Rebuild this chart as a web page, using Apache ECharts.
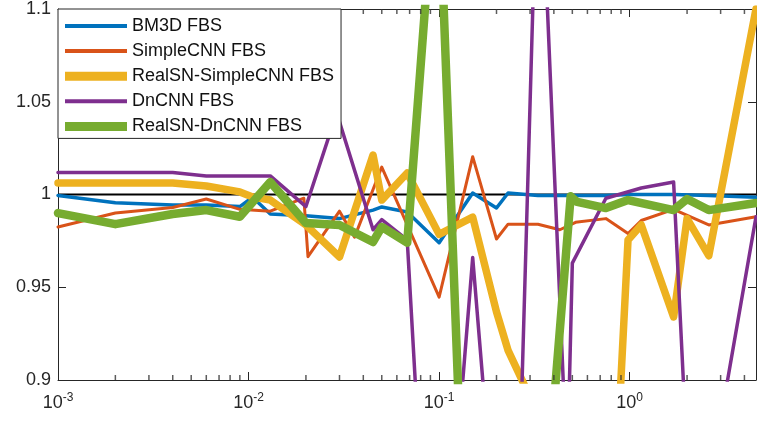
<!DOCTYPE html>
<html>
<head>
<meta charset="utf-8">
<script src="https://cdn.jsdelivr.net/npm/echarts@6/dist/echarts.min.js"></script>
<style>
html,body{margin:0;padding:0;background:#fff;}
#chart{width:757px;height:421px;}
</style>
</head>
<body>
<div id="chart"></div>
<script>
// ---- data ----
const seriesNames = ['BM3D FBS', 'SimpleCNN FBS', 'RealSN-SimpleCNN FBS', 'DnCNN FBS', 'RealSN-DnCNN FBS'];

const bm3dX = [0.001, 0.002, 0.004, 0.006, 0.009, 0.0105, 0.013, 0.02, 0.03, 0.045, 0.05, 0.068, 0.1, 0.15, 0.2, 0.23, 0.33, 0.5, 0.75, 1.0, 1.7, 2.6, 4.6];
const bm3dY = [0.9995, 0.9955, 0.9943, 0.9943, 0.9935, 0.9985, 0.9895, 0.9885, 0.987, 0.9916, 0.9933, 0.9906, 0.974, 1.0008, 0.9927, 1.0008, 0.9995, 0.9995, 0.9995, 1.0, 1.0, 0.9995, 0.9985];

const simpleX = [0.001, 0.002, 0.004, 0.006, 0.009, 0.013, 0.0195, 0.0205, 0.03, 0.036, 0.05, 0.1, 0.15, 0.2, 0.23, 0.33, 0.43, 0.52, 0.75, 0.98, 1.15, 1.7, 2.6, 4.6];
const simpleY = [0.9825, 0.990, 0.993, 0.9976, 0.992, 0.991, 0.998, 0.9665, 0.991, 0.977, 1.0148, 0.9447, 1.0204, 0.976, 0.984, 0.984, 0.981, 0.985, 0.987, 0.979, 0.986, 0.992, 0.9836, 0.988];

const rsSimpleX = [0.001, 0.004, 0.006, 0.009, 0.0105, 0.013, 0.02, 0.03, 0.045, 0.05, 0.068, 0.1, 0.15, 0.2, 0.23, 0.80, 0.98, 1.15, 1.7, 2.0, 2.6, 4.6];
const rsSimpleY = [1.0062, 1.0062, 1.0046, 1.0014, 0.9987, 0.997, 0.9836, 0.9663, 1.0213, 0.997, 1.0116, 0.9785, 0.9878, 0.9367, 0.916, 0.7975, 0.9755, 0.9836, 0.934, 0.987, 0.967, 1.1];

const dncnnX = [0.001, 0.004, 0.006, 0.009, 0.013, 0.02, 0.029, 0.045, 0.05, 0.068, 0.095, 0.15, 0.241, 0.333, 0.47, 0.5, 0.75, 1.15, 1.7, 2.15, 4.6];
const dncnnY = [1.0118, 1.0118, 1.010, 1.010, 1.010, 0.9935, 1.044, 0.981, 0.9865, 0.9755, 0.713, 0.966, 0.709, 1.211, 0.849, 0.963, 0.998, 1.0035, 1.0067, 0.793, 0.988];

const rsDncnnX = [0.001, 0.002, 0.004, 0.006, 0.009, 0.013, 0.02, 0.03, 0.045, 0.05, 0.068, 0.098, 0.183, 0.49, 0.53, 0.75, 0.98, 1.7, 2.0, 2.6, 4.6];
const rsDncnnY = [0.990, 0.984, 0.9895, 0.9916, 0.988, 1.0067, 0.9846, 0.9836, 0.9744, 0.9825, 0.974, 1.189, 0.456, 0.999, 0.996, 0.9927, 0.997, 0.9916, 0.9976, 0.9916, 0.9954];

const refLineX = [0.001, 4.6];
const refLineY = [1, 1];

const xMin = 0.001, xMax = 4.6;
const yMin = 0.9, yMax = 1.1, yStep = 0.05;
const minorTicks = [0.002,0.003,0.004,0.005,0.006,0.007,0.008,0.009,
                    0.02,0.03,0.04,0.05,0.06,0.07,0.08,0.09,
                    0.2,0.3,0.4,0.5,0.6,0.7,0.8,0.9,
                    2,3,4];

const colors = ['#0072BD', '#D95319', '#EDB120', '#7E2F8E', '#77AC30'];
const widths = [3.5, 3, 7.5, 3.5, 8.5];
const legendWidths = [4, 4, 9, 4, 9];
const axisColor = '#262626';
const FONT = '"Liberation Sans", Arial, Helvetica, sans-serif';

function zip(xs, ys) { return xs.map((x, i) => [x, ys[i]]); }
const allX = [bm3dX, simpleX, rsSimpleX, dncnnX, rsDncnnX];
const allY = [bm3dY, simpleY, rsSimpleY, dncnnY, rsDncnnY];

const chart = echarts.init(document.getElementById('chart'), null, {renderer: 'canvas'});

const lineSeries = seriesNames.map((name, i) => ({
  name: name,
  type: 'line',
  xAxisIndex: 0, yAxisIndex: 0,
  data: zip(allX[i], allY[i]),
  symbol: 'none',
  showSymbol: false,
  clip: true,
  color: colors[i],
  lineStyle: {color: colors[i], width: widths[i], join: 'round', cap: 'round'},
  z: 3,
  animation: false
}));

function supFormatter(v) {
  const e = Math.round(Math.log10(v));
  if (Math.abs(v - Math.pow(10, e)) > 1e-6 * v) return '';
  return '{b|10}{s|' + e + '}';
}

function tickMarks(yVal, offset) {
  return {
    type: 'scatter',
    xAxisIndex: 0, yAxisIndex: 0,
    data: minorTicks.map(v => [v, yVal]),
    symbol: 'rect',
    symbolSize: [1.5, 5],
    symbolOffset: [0, offset],
    itemStyle: {color: '#333'},
    clip: false,
    silent: true,
    z: 5,
    animation: false
  };
}

const option = {
  animation: false,
  backgroundColor: '#fff',
  textStyle: {fontFamily: FONT},
  grid: {left: 58, top: 9, right: 1, bottom: 41, containLabel: false, outerBoundsMode: 'none'},
  legend: {
    data: seriesNames.map((n, i) => ({
      name: n,
      icon: 'path://M0,0L62,0L62,' + legendWidths[i] + 'L0,' + legendWidths[i] + 'Z',
      itemStyle: {color: colors[i]}
    })),
    orient: 'vertical',
    left: 58, top: 9,
    padding: [8, 7, 3, 7],
    itemGap: 7.1,
    itemWidth: 62,
    itemHeight: 18,
    backgroundColor: '#fff',
    borderColor: axisColor,
    borderWidth: 1,
    borderRadius: 0,
    textStyle: {fontSize: 18, color: '#111', fontFamily: FONT},
    selectedMode: false,
    z: 10
  },
  xAxis: [
    {
      type: 'log', logBase: 10, min: xMin, max: xMax, position: 'bottom',
      axisLine: {show: true, onZero: false, lineStyle: {color: axisColor, width: 1}},
      axisTick: {show: true, inside: true, length: 8, lineStyle: {color: axisColor}},
      splitLine: {show: false},
      axisLabel: {
        show: true, margin: 12, color: axisColor, fontFamily: FONT,
        showMinLabel: true, showMaxLabel: true,
        formatter: supFormatter,
        rich: {
          b: {fontSize: 18, color: axisColor, fontFamily: FONT},
          s: {fontSize: 12, color: axisColor, fontFamily: FONT, padding: [0, 0, 10, 0]}
        }
      }
    },
    {
      type: 'log', logBase: 10, min: xMin, max: xMax, position: 'top',
      axisLine: {show: true, onZero: false, lineStyle: {color: axisColor, width: 1}},
      axisTick: {show: true, inside: true, length: 8, lineStyle: {color: axisColor}},
      splitLine: {show: false},
      axisLabel: {show: false}
    }
  ],
  yAxis: [
    {
      type: 'value', min: yMin, max: yMax, interval: yStep, position: 'left',
      axisLine: {show: true, onZero: false, lineStyle: {color: axisColor, width: 1}},
      axisTick: {show: true, inside: true, length: 8, lineStyle: {color: axisColor}},
      splitLine: {show: false},
      axisLabel: {
        show: true, margin: 7, fontSize: 18, color: axisColor, fontFamily: FONT,
        formatter: v => String(Math.round(v * 100) / 100)
      }
    },
    {
      type: 'value', min: yMin, max: yMax, interval: yStep, position: 'right',
      axisLine: {show: true, onZero: false, lineStyle: {color: axisColor, width: 1}},
      axisTick: {show: true, inside: true, length: 8, lineStyle: {color: axisColor}},
      splitLine: {show: false},
      axisLabel: {show: false}
    }
  ],
  series: [tickMarks(yMin, -2.5), tickMarks(yMax, 2.5)].concat([
    {
      type: 'line',
      data: zip(refLineX, refLineY),
      symbol: 'none',
      lineStyle: {color: '#000', width: 2},
      z: 2,
      animation: false
    }
  ]).concat(lineSeries)
};

chart.setOption(option);
</script>
</body>
</html>
